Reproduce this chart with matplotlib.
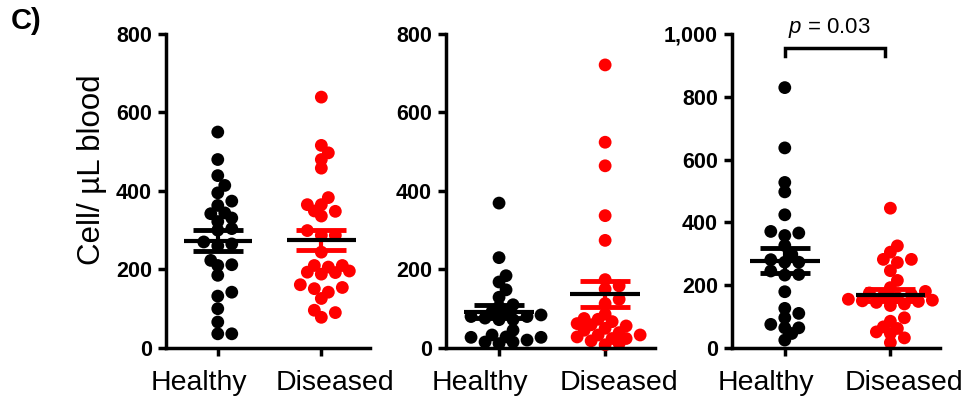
import numpy as np
import matplotlib
matplotlib.use("Agg")
import matplotlib.pyplot as plt
from matplotlib.ticker import FuncFormatter

plt.rcParams['font.family'] = ['Liberation Sans', 'DejaVu Sans']
plt.rcParams['mathtext.fontset'] = 'custom'
plt.rcParams['mathtext.it'] = 'Liberation Sans:italic'
plt.rcParams['mathtext.rm'] = 'Liberation Sans'

categories = ["Healthy", "Diseased"]
colors = ["black", "red"]

p1_healthy = [550, 480, 439, 414, 395, 374, 363, 344, 342, 331, 322, 304, 300,
              270, 265, 260, 223, 212, 210, 185, 142, 132, 100, 66, 36, 36]
p1_diseased = [639, 516, 497, 480, 458, 383, 365, 365, 349, 348, 336, 299, 287,
               287, 244, 210, 206, 210, 196, 192, 193, 188, 154, 161, 151, 142,
               126, 96, 90, 78]
p2_healthy = [369, 230, 184, 168, 148, 129, 110, 105, 92, 88, 84, 80, 80, 76,
              72, 72, 45, 33, 27, 20, 15, 11, 15, 27, 28]
p2_diseased = [721, 524, 464, 337, 274, 174, 158, 150, 124, 113, 86, 75, 73, 67,
               62, 59, 56, 50, 45, 39, 33, 33, 28, 24, 24, 18, 11, 8]
p3_healthy = [829, 637, 527, 497, 424, 371, 366, 358, 326, 298, 281, 273, 273,
              245, 234, 232, 179, 126, 110, 96, 75, 64, 64, 46, 25]
p3_diseased = [445, 325, 305, 282, 282, 272, 246, 215, 192, 180, 175, 170, 165,
               160, 155, 152, 150, 148, 145, 140, 135, 96, 85, 67, 62, 51, 46,
               32, 17]

panels = [(p1_healthy, p1_diseased), (p2_healthy, p2_diseased), (p3_healthy, p3_diseased)]
ymaxes = [800, 800, 1000]
yticks = [[0, 200, 400, 600, 800], [0, 200, 400, 600, 800], [0, 200, 400, 600, 800, 1000]]

W, H = 9.78, 3.99
DPI = 100
fig = plt.figure(figsize=(W, H), dpi=DPI)

ax_rects = [(166/978, 0.128, 204/978, 0.787),
            (446/978, 0.128, 209/978, 0.787),
            (732/978, 0.128, 208/978, 0.787)]
XLIM = (-0.5, 1.47)
label_shift = [-0.18, 0.13]


def swarm_offsets(vals, ppu_y, ppu_x, step_px=7.0, min_d=8.6):
    vals = np.asarray(vals, float)
    order = np.argsort(vals)
    placed = []
    offs = np.zeros(len(vals))
    cands = [0]
    for k in range(1, 12):
        cands += [k, -k]
    for i in order:
        y = vals[i] * ppu_y
        for c in cands:
            x = c * step_px
            ok = True
            for (px, py) in placed:
                if (px - x) ** 2 + (py - y) ** 2 < min_d ** 2:
                    ok = False
                    break
            if ok:
                break
        placed.append((x, y))
        offs[i] = x / ppu_x
    return offs


for pi, (rect, (h, d), ymax, yt) in enumerate(zip(ax_rects, panels, ymaxes, yticks)):
    ax = fig.add_axes(rect)
    ax.set_xlim(*XLIM)
    ax.set_ylim(0, ymax)
    ax_h_px = rect[3] * H * DPI
    ax_w_px = rect[2] * W * DPI
    ppu_y = ax_h_px / ymax
    ppu_x = ax_w_px / (XLIM[1] - XLIM[0])
    for gi, (vals, col) in enumerate(zip((h, d), colors)):
        offs = swarm_offsets(vals, ppu_y, ppu_x)
        ax.scatter(gi + offs, vals, s=85, color=col, edgecolors='none', zorder=2,
                   clip_on=False)
        m = np.mean(vals)
        sem = np.std(vals, ddof=1) / np.sqrt(len(vals))
        ax.errorbar([gi], [m], yerr=[sem], color=col, capsize=18, capthick=3.5,
                    elinewidth=3, zorder=3, fmt='none')
        ax.plot([gi - 0.33, gi + 0.33], [m, m], color='black', lw=3, zorder=4,
                solid_capstyle='butt')
        ax.text(gi + label_shift[gi], -0.134, categories[gi],
                transform=ax.get_xaxis_transform(), ha='center', va='baseline',
                fontsize=20.5)
    for s in ['top', 'right']:
        ax.spines[s].set_visible(False)
    for s in ['left', 'bottom']:
        ax.spines[s].set_linewidth(2.5)
    ax.set_yticks(yt)
    ax.yaxis.set_major_formatter(FuncFormatter(lambda v, p: f"{int(v):,}"))
    ax.set_xticks([0, 1])
    ax.set_xticklabels(["", ""])
    ax.tick_params(axis='y', length=6, width=2.5, labelsize=15.5, pad=4)
    ax.tick_params(axis='x', length=6, width=2.5, pad=3)
    for lab in ax.get_yticklabels():
        lab.set_fontweight('bold')
    if pi == 0:
        ax.set_ylabel("Cell/ µL blood", fontsize=22.5)
        ax.yaxis.set_label_coords(-0.29, 0.567)
    if pi == 2:
        yb = 955
        ax.plot([0, 0, 0.95, 0.95], [930, yb, yb, 930], color='black', lw=2.5,
                clip_on=False, solid_joinstyle='miter')
        ax.text(0.42, 1003, "$p$ = 0.03", ha='center', va='baseline', fontsize=16,
                clip_on=False)

fig.text(11/978, 1 - 21/399, "C)", fontsize=21, fontweight='bold', ha='left',
         va='center')

fig.savefig("out.png", dpi=DPI)
